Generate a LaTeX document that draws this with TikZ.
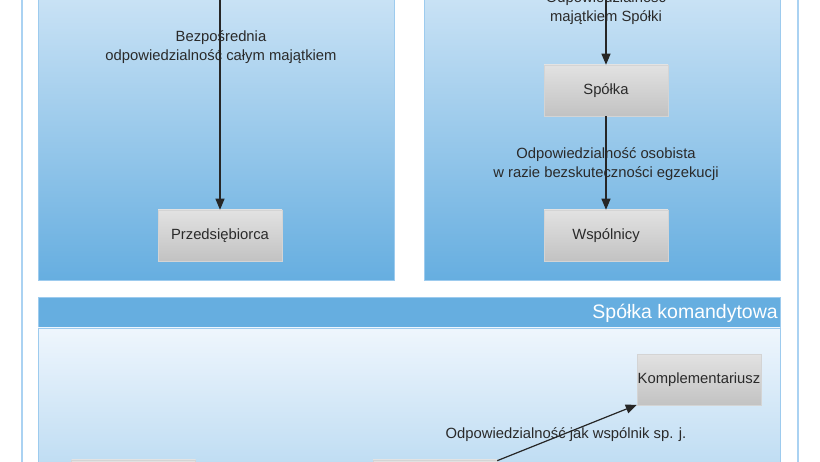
\documentclass[tikz,border=0pt]{standalone}
\usepackage{fontspec}
\setmainfont{Liberation Sans}
\usetikzlibrary{arrows.meta}
\definecolor{panelTop}{HTML}{EFF6FD}
\definecolor{panelBot}{HTML}{66AEE0}
\definecolor{panelLine}{HTML}{9DCBEE}
\definecolor{frameLine}{HTML}{AAD2F2}
\definecolor{boxTop}{HTML}{E2E2E2}
\definecolor{boxBot}{HTML}{C2C2C2}
\definecolor{boxLine}{HTML}{D4D4D4}
\definecolor{txt}{HTML}{2A2A2A}
\tikzset{
  frame/.style={draw=frameLine, line width=1.5pt},
  panel/.style={draw=panelLine, line width=0.6pt, top color=panelTop, bottom color=panelBot},
  head/.style={draw=panelLine, line width=0.6pt, fill=panelBot},
  htitle/.style={text=white, font=\fontsize{19.5}{22}\selectfont, anchor=east, inner sep=0pt},
  box/.style={draw=boxLine, line width=0.5pt, top color=boxTop, bottom color=boxBot,
    minimum width=124pt, minimum height=51pt, inner sep=0pt, text=txt, font=\fontsize{14.8}{17}\selectfont},
  lbl/.style={text=txt, font=\fontsize{14.8}{19}\selectfont, align=center, inner sep=0pt},
  link/.style={draw=black!85, line width=1.2pt, -{Triangle[length=11pt,width=9pt]}},
}
\begin{document}
\begin{tikzpicture}[x=1pt,y=-1pt]
\useasboundingbox (0,0) rectangle (820,462);
\clip (0,0) rectangle (820,462);
\fill[white] (0,0) rectangle (820,462);
\draw[frame] (22,-20) rectangle (798,490);
\draw[panel] (38,-110) rectangle (394,280);
\draw[panel] (424,-110) rectangle (780,280);
\draw[head] (38,297) rectangle (780,328);
\draw[panel] (38,328) rectangle (780,718);
\node[htitle] (kmdtitle) at (778,313) {Spółka komandytowa};

\node[box] (przed) at (220,235.5) {Przedsiębiorca};
\node[box] (spolka) at (606,90.5) {Spółka};
\node[box] (wspol) at (606,235.5) {Wspólnicy};
\node[box] (kompl) at (699,380) {Komplementariusz};
\node[box] (kspolka) at (133.5,485.5) {};
\node[box] (komand) at (435,485.5) {};

\coordinate (przedsrc) at (220,-40);
\coordinate (spolkasrc) at (606,-40);

\draw[link] (przedsrc) -- (przed);
\draw[link] (spolkasrc) -- (spolka);
\draw[link] (spolka) -- (wspol);
\draw[link] (komand) -- (kompl);

\node[lbl] (przedlbl) at (221,47.5) {Bezpośrednia\\odpowiedzialność całym majątkiem};
\node[lbl] (spolkalbl) at (606,8.5) {Odpowiedzialność\\majątkiem Spółki};
\node[lbl] (wspollbl) at (606,164.5) {Odpowiedzialność osobista\\w razie bezskuteczności egzekucji};
\node[lbl] (kompllbl) at (566,435) {Odpowiedzialność jak wspólnik sp. j.};
\end{tikzpicture}
\end{document}
